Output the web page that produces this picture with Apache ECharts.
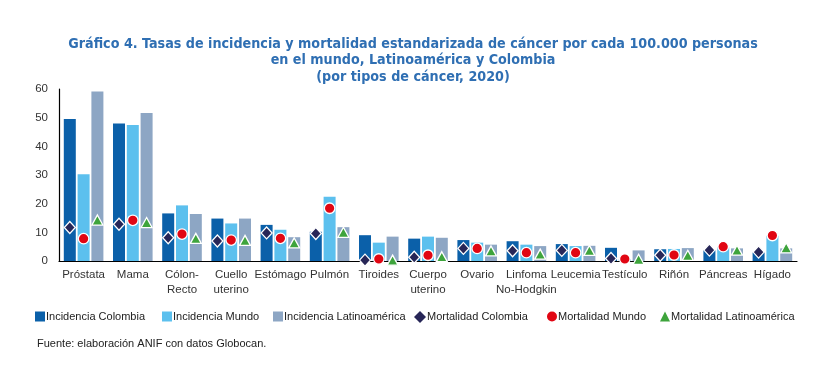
<!DOCTYPE html>
<html>
<head>
<meta charset="utf-8">
<script src="https://cdn.jsdelivr.net/npm/echarts@6/dist/echarts.min.js"></script>
<style>
html,body{margin:0;padding:0;background:#fff;}
#c{width:838px;height:384px;}
</style>
</head>
<body>
<div id="c"></div>
<script>
const categories = ['Próstata','Mama','Cólon-\nRecto','Cuello\nuterino','Estómago','Pulmón','Tiroides','Cuerpo\nuterino','Ovario','Linfoma\nNo-Hodgkin','Leucemia','Testículo','Riñón','Páncreas','Hígado'];
const incidenciaColombia = [49.5,48.0,16.6,14.8,12.6,10.2,9.0,7.8,7.3,6.9,5.9,4.6,4.1,3.8,3.0];
const incidenciaMundo = [30.3,47.4,19.4,13.1,10.9,22.4,6.4,8.5,6.4,5.7,5.2,0.7,4.2,4.8,8.8];
const incidenciaLatam = [59.1,51.6,16.4,14.8,8.3,11.8,8.5,8.1,5.7,5.2,5.3,3.7,4.5,4.4,4.4];
const mortalidadColombia = [11.7,12.8,8.1,7.0,9.8,9.6,0.3,1.3,4.4,3.6,3.7,0.9,2.0,3.8,3.1];
const mortalidadMundo = [7.8,14.2,9.4,7.3,7.9,18.4,0.7,2.0,4.4,2.9,2.9,0.7,2.1,5.0,8.9];
const mortalidadLatam = [14.3,13.4,7.9,7.2,6.3,10.0,0.3,1.5,3.5,2.4,3.7,0.6,2.0,3.8,4.6];
const yTicks = [0,10,20,30,40,50,60];
const legendNames = ['Incidencia Colombia','Incidencia Mundo','Incidencia Latinoamérica','Mortalidad Colombia','Mortalidad Mundo','Mortalidad Latinoamérica'];

const chart = echarts.init(document.getElementById('c'));
const font = '"Liberation Sans", Arial, sans-serif';
const off = 13.8;
const legendIcons = ['rect','rect','rect','diamond','circle','triangle'];
const legendLeft = [35,162,273,414,547,660];
const legends = legendNames.map((n,i)=>({
  left:legendLeft[i], top:311, itemWidth:i===3?12:10, itemHeight:i===3?12:10, padding:0,
  textStyle:{fontFamily:font,fontSize:11,color:'#222',padding:[0,0,0,-4]},
  data:[{name:n,icon:legendIcons[i],itemStyle:{borderWidth:0}}]
}));
chart.setOption({
  animation:false,
  backgroundColor:'#ffffff',
  title:{
    text:'Gráfico 4. Tasas de incidencia y mortalidad estandarizada de cáncer por cada 100.000 personas\nen el mundo, Latinoamérica y Colombia\n(por tipos de cáncer, 2020)',
    left:413, top:36, textAlign:'center', padding:0,
    textStyle:{fontFamily:'"DejaVu Sans Condensed",sans-serif',fontWeight:'bold',fontSize:14.2,lineHeight:16.5,color:'#2f6fb3'}
  },
  grid:{left:59,right:41,top:89,bottom:123,containLabel:false},
  legend:legends,
  graphic:[{type:'text',left:37,top:338,style:{text:'Fuente: elaboración ANIF con datos Globocan.',font:'11px "Liberation Sans", Arial, sans-serif',fill:'#222'}}],
  xAxis:{
    type:'category', data:categories,
    axisLine:{lineStyle:{color:'#000',width:1.2}},
    axisTick:{show:false},
    axisLabel:{fontFamily:font,fontSize:11.5,color:'#333',lineHeight:15,margin:6,interval:0}
  },
  yAxis:{
    type:'value', min:yTicks[0], max:yTicks[yTicks.length-1], interval:10,
    axisLine:{show:true,lineStyle:{color:'#000',width:1.2}},
    axisTick:{show:false},
    splitLine:{show:false},
    axisLabel:{fontFamily:font,fontSize:11.5,color:'#333',margin:11}
  },
  series:[
    {name:'Incidencia Colombia',type:'bar',data:incidenciaColombia,barWidth:12,barGap:'15%',barCategoryGap:'20%',itemStyle:{color:'#0b60a9'}},
    {name:'Incidencia Mundo',type:'bar',data:incidenciaMundo,barWidth:12,barGap:'15%',itemStyle:{color:'#5cc0ee'}},
    {name:'Incidencia Latinoamérica',type:'bar',data:incidenciaLatam,barWidth:12,barGap:'15%',itemStyle:{color:'#8da6c4'}},
    {name:'Mortalidad Colombia',type:'scatter',data:mortalidadColombia,symbol:'diamond',symbolSize:[11,12],symbolOffset:[-off,0],itemStyle:{color:'#272657',borderColor:'#fff',borderWidth:1.3,opacity:1},z:5},
    {name:'Mortalidad Mundo',type:'scatter',data:mortalidadMundo,symbol:'circle',symbolSize:10.5,itemStyle:{color:'#e10613',borderColor:'#fff',borderWidth:1.3,opacity:1},z:5},
    {name:'Mortalidad Latinoamérica',type:'scatter',data:mortalidadLatam,symbol:'triangle',symbolSize:[11,10],symbolOffset:[off,0],itemStyle:{color:'#3ea43c',borderColor:'#fff',borderWidth:1.3,opacity:1},z:5}
  ]
});
</script>
</body>
</html>
